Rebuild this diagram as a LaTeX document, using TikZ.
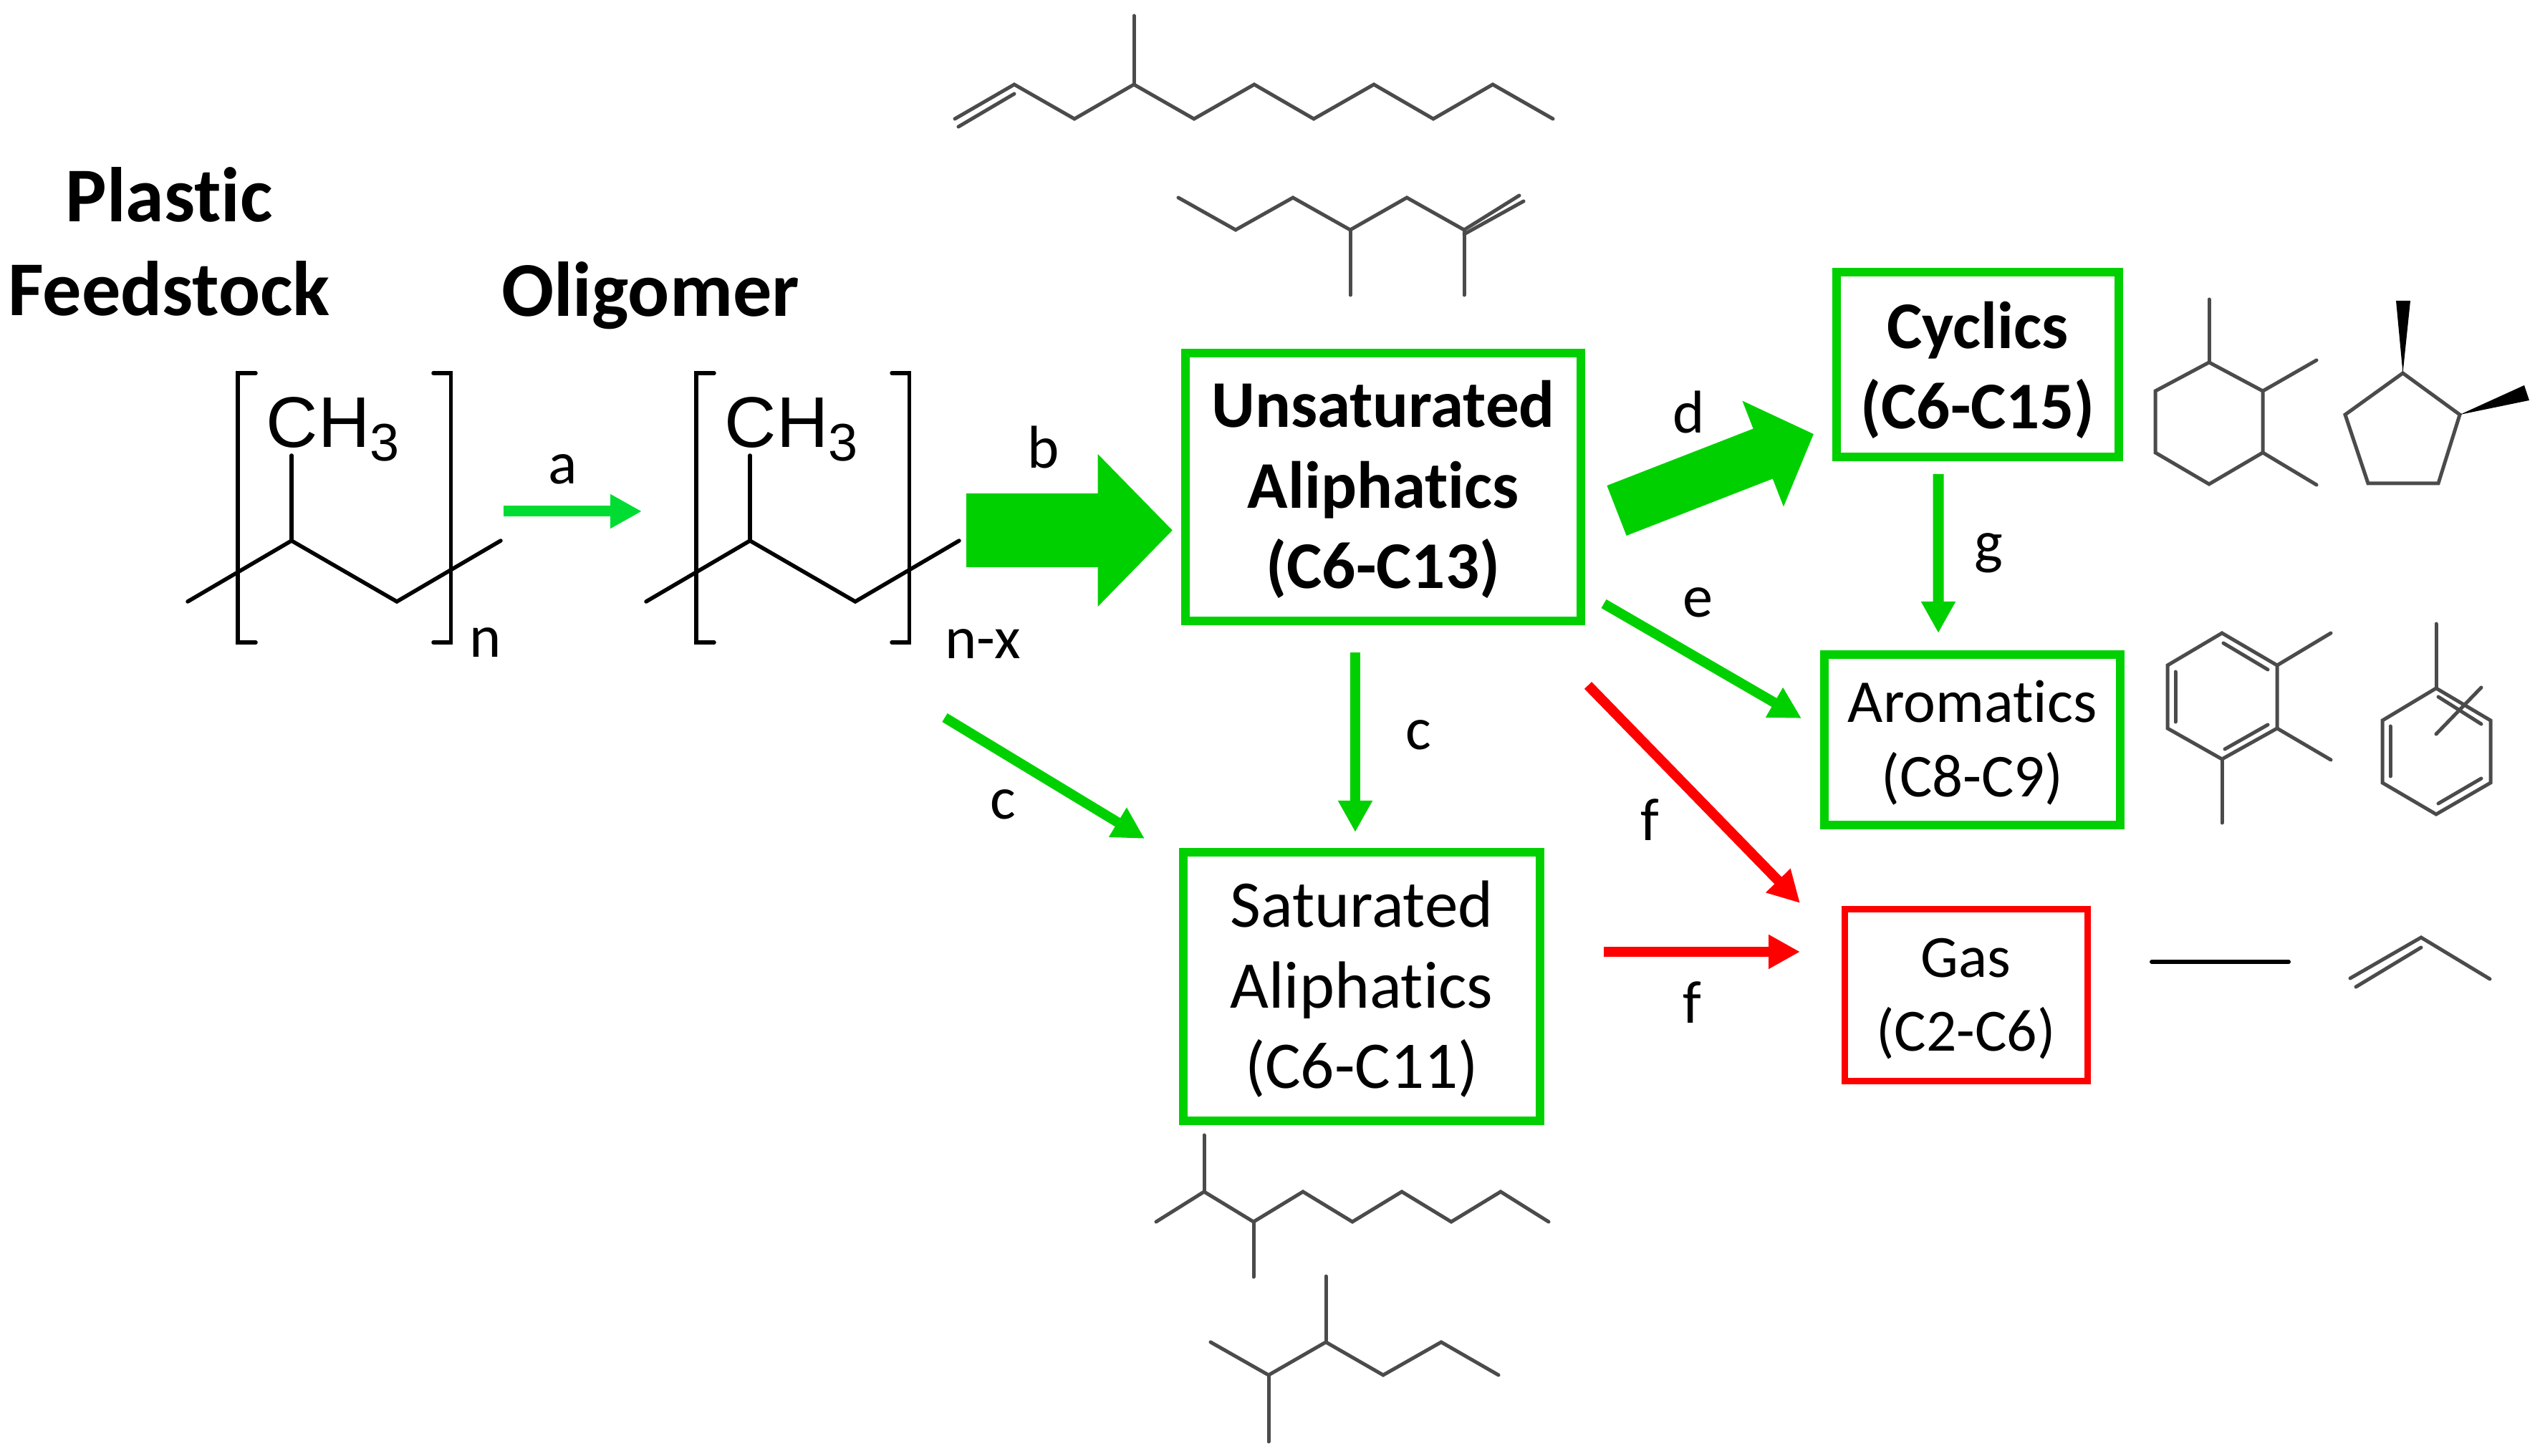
\documentclass[tikz,border=0pt]{standalone}
\usepackage{amsmath,amsthm,amssymb}
\usepackage[svgnames]{xcolor}
\usepackage{fontspec}
\usepackage{tkz-euclide}
\usepackage{tikz}
\usetikzlibrary{arrows.meta}

\setmainfont{Carlito}[Ligatures=NoCommon]
\newfontfamily\chemfont{Liberation Sans}

\definecolor{boxgreen}{RGB}{0,208,0}
\definecolor{feedgreen}{RGB}{0,220,50}
\definecolor{molgray}{RGB}{75,75,75}

\newcommand{\linelift}[1][.78em]{\rule{0pt}{#1}}

\tikzset{
    box/.style={draw,line width=.115cm,inner sep=0pt,outer sep=0pt,align=center,
        font=\fontsize{26.5}{32}\selectfont},
    greenbox/.style={box,draw=boxgreen},
    redbox/.style={box,draw=red,line width=.09cm,font=\fontsize{23.8}{29.5}\selectfont},
    heading/.style={font=\bfseries\fontsize{30.8}{37.3}\selectfont,align=center},
    steplabel/.style={anchor=base,inner sep=0pt,font=\fontsize{24}{28}\selectfont},
    flow/.style={line width=.14cm,-{Triangle[length=.44cm,width=.45cm]}},
    mol/.style={line width=.05cm,molgray,line join=miter},
    poly/.style={line width=.055cm,black},
    ch/.style={anchor=base west,inner sep=0pt,font=\chemfont\fontsize{28.5}{30}\selectfont}
}

\begin{document}
\begin{tikzpicture}[x=1cm,y=1cm]

        \useasboundingbox (0,0) rectangle (35.53,20.33);

        % product boxes
        \node[greenbox,minimum width=5.52cm,minimum height=3.74cm] (unsat) at (19.31,13.53)
            {\linelift\bfseries Unsaturated\\\bfseries Aliphatics\\\bfseries (C6-C13)};
        \node[greenbox,minimum width=3.94cm,minimum height=2.58cm] (cyclics) at (27.61,15.24)
            {\linelift[.87em]\bfseries Cyclics\\\bfseries (C6-C15)};
        \node[greenbox,minimum width=4.13cm,minimum height=2.38cm,font=\fontsize{24.2}{29.5}\selectfont] (arom) at (27.535,10.00)
            {\linelift[.79em]Aromatics\\(C8-C9)};
        \node[greenbox,minimum width=4.98cm,minimum height=3.75cm] (sat) at (19.01,6.555)
            {\linelift Saturated\\Aliphatics\\(C6-C11)};
        \node[redbox,minimum width=3.39cm,minimum height=2.40cm] (gas) at (27.445,6.43)
            {\linelift[.76em]Gas\\(C2-C6)};

        % headings
        \node[heading] (feedstock) at (2.36,16.96) {Plastic\\Feedstock};
        \node[heading,anchor=base] (oligomer) at (9.08,15.91) {Oligomer};

        % feedstock repeat unit
        \tkzDefPoints{2.62/11.93/Pa,4.07/12.78/Pb,5.54/11.93/Pc,6.99/12.78/Pd,4.07/13.97/Pe}
        \tkzDefPoints{3.57/15.12/Pf,3.32/15.12/Pg,3.32/11.36/Ph,3.57/11.36/Pi}
        \tkzDefPoints{6.05/15.12/Pj,6.295/15.12/Pk,6.295/11.36/Pl,6.05/11.36/Pm}
        \tkzDrawPolySeg[poly](Pa,Pb,Pc,Pd)
        \tkzDrawSegments[poly](Pb,Pe)
        \tkzDrawPolySeg[poly](Pf,Pg,Ph,Pi)
        \tkzDrawPolySeg[poly](Pj,Pk,Pl,Pm)
        \node[ch] (methylP) at (3.71,14.08) {CH\raisebox{-5.4pt}{\fontsize{21}{21}\selectfont 3}};
        \node[steplabel] (repn) at (6.78,11.15) {n};

        % oligomer repeat unit
        \tkzDefPoints{9.02/11.93/Oa,10.47/12.78/Ob,11.94/11.93/Oc,13.39/12.78/Od,10.47/13.97/Oe}
        \tkzDefPoints{9.97/15.12/Of,9.72/15.12/Og,9.72/11.36/Oh,9.97/11.36/Oi}
        \tkzDefPoints{12.45/15.12/Oj,12.695/15.12/Ok,12.695/11.36/Ol,12.45/11.36/Om}
        \tkzDrawPolySeg[poly](Oa,Ob,Oc,Od)
        \tkzDrawSegments[poly](Ob,Oe)
        \tkzDrawPolySeg[poly](Of,Og,Oh,Oi)
        \tkzDrawPolySeg[poly](Oj,Ok,Ol,Om)
        \node[ch] (methylO) at (10.11,14.08) {CH\raisebox{-5.4pt}{\fontsize{21}{21}\selectfont 3}};
        \node[steplabel] (repnx) at (13.72,11.13) {n-x};

        % free ends of the arrows
        \tkzDefPoints{7.03/13.19/aS,8.96/13.19/aE,13.49/12.925/bS,13.19/10.31/cS}

        % reaction arrows
        \draw[flow,feedgreen,line width=.15cm] (aS) -- (aE);
        \draw[boxgreen,line width=1.03cm,-{Triangle[length=1.045cm,width=2.07cm]}]
            (bS) -- ([shift={(-.18,-.605)}]unsat.west);
        \draw[flow,boxgreen] (cS) -- ([shift={(-.54,.19)}]sat.north west);
        \draw[flow,boxgreen] ([shift={(-.39,-.44)}]unsat.south) -- ([shift={(-.09,.28)}]sat.north);
        \draw[boxgreen,line width=.75cm,-{Triangle[length=.76cm,width=1.54cm]}]
            ([shift={(.50,-.33)}]unsat.east) -- ([shift={(-.32,-.97)}]cyclics.west);
        \draw[flow,boxgreen] ([shift={(.32,.24)}]unsat.south east) -- ([shift={(-.32,.30)}]arom.west);
        \draw[flow,red] ([shift={(.10,-.90)}]unsat.south east) -- ([shift={(-.62,.09)}]gas.north west);
        \draw[flow,red] ([shift={(.89,.485)}]sat.east) -- ([shift={(-.62,.61)}]gas.west);
        \draw[flow,boxgreen,line width=.15cm] ([shift={(-.55,-.24)}]cyclics.south) -- ([shift={(-.475,.30)}]arom.north);

        % arrow labels
        \node[steplabel] (la) at (7.86,13.57) {a};
        \node[steplabel] (lb) at (14.57,13.79) {b};
        \node[steplabel] (lc) at (19.80,9.86) {c};
        \node[steplabel] (lcc) at (14.00,8.89) {c};
        \node[steplabel] (ld) at (23.58,14.28) {d};
        \node[steplabel] (le) at (23.70,11.71) {e};
        \node[steplabel] (lf) at (23.03,8.59) {f};
        \node[steplabel] (lff) at (23.62,6.04) {f};
        \node[steplabel] (lg) at (27.76,12.47) {g};

        % unsaturated chains
        \tkzDefPoints{13.33/18.67/Ua,14.16/19.15/Ub,15.00/18.67/Uc,15.83/19.15/Ud,16.67/18.67/Ue,17.51/19.15/Uf}
        \tkzDefPoints{18.34/18.67/Ug,19.18/19.15/Uh,20.01/18.67/Ui,20.84/19.15/Uj,21.68/18.67/Uk}
        \tkzDefPoints{15.83/20.11/Ul,13.38/18.56/Um,14.16/19.02/Un}
        \tkzDrawPolySeg[mol](Ua,Ub,Uc,Ud,Ue,Uf,Ug,Uh,Ui,Uj,Uk)
        \tkzDrawSegments[mol](Ud,Ul Um,Un)

        \tkzDefPoints{16.45/17.57/Va,17.25/17.12/Vb,18.05/17.57/Vc,18.85/17.12/Vd,19.64/17.57/Ve,20.44/17.12/Vf}
        \tkzDefPoints{21.21/17.60/Vg,20.44/17.06/Vh,21.27/17.52/Vi,18.85/16.21/Vj,20.44/16.21/Vk}
        \tkzDrawPolySeg[mol](Va,Vb,Vc,Vd,Ve,Vf,Vg)
        \tkzDrawSegments[mol](Vh,Vi Vd,Vj Vf,Vk)

        % saturated chains
        \tkzDefPoints{16.14/3.27/Sa,16.81/3.69/Sb,17.50/3.27/Sc,18.19/3.69/Sd,18.88/3.27/Se}
        \tkzDefPoints{19.57/3.69/Sf,20.26/3.27/Sg,20.95/3.69/Sh,21.62/3.27/Si,16.81/4.48/Sj,17.50/2.50/Sk}
        \tkzDrawPolySeg[mol](Sa,Sb,Sc,Sd,Se,Sf,Sg,Sh,Si)
        \tkzDrawSegments[mol](Sb,Sj Sc,Sk)

        \tkzDefPoints{16.90/1.59/Ta,17.71/1.13/Tb,18.51/1.59/Tc,19.31/1.13/Td,20.12/1.59/Te,20.92/1.13/Tf}
        \tkzDefPoints{18.51/2.51/Tg,17.71/0.20/Th}
        \tkzDrawPolySeg[mol](Ta,Tb,Tc,Td,Te,Tf)
        \tkzDrawSegments[mol](Tc,Tg Tb,Th)

        % cyclics
        \tkzDefPoints{30.84/15.27/Ca,31.59/14.87/Cb,31.59/14.01/Cc,30.84/13.57/Cd,30.09/14.01/Ce,30.09/14.87/Cf}
        \tkzDefPoints{30.84/16.15/Cg,32.34/15.30/Ch,32.34/13.56/Ci}
        \tkzDrawPolygon[mol](Ca,Cb,Cc,Cd,Ce,Cf)
        \tkzDrawSegments[mol](Ca,Cg Cb,Ch Cc,Ci)

        \tkzDefPoints{33.545/15.12/Da,34.34/14.54/Db,34.04/13.58/Dc,33.06/13.58/Dd,32.74/14.54/De}
        \tkzDefPoints{33.45/16.13/Df,33.65/16.13/Dg,35.24/14.95/Dh,35.31/14.74/Di}
        \tkzDrawPolygon[mol](Da,Db,Dc,Dd,De)
        \tkzFillPolygon[color=black](Da,Df,Dg)
        \tkzFillPolygon[color=black](Db,Dh,Di)

        % aromatics
        \tkzDefPoints{31.02/11.49/Aa,31.79/11.04/Ab,31.79/10.16/Ac,31.02/9.73/Ad,30.26/10.16/Ae,30.26/11.04/Af}
        \tkzDefPoints{32.54/11.49/Ag,32.54/9.72/Ah,31.02/8.84/Ai}
        \tkzDefPoints{31.04/11.35/Aj,31.66/10.98/Ak,30.37/10.95/Al,30.37/10.25/Am,31.06/9.87/An,31.66/10.21/Ao}
        \tkzDrawPolygon[mol](Aa,Ab,Ac,Ad,Ae,Af)
        \tkzDrawSegments[mol](Ab,Ag Ac,Ah Ad,Ai Aj,Ak Al,Am An,Ao)

        \tkzDefPoints{34.01/10.72/Ba,34.77/10.27/Bb,34.77/9.40/Bc,34.01/8.96/Bd,33.26/9.40/Be,33.26/10.27/Bf}
        \tkzDefPoints{34.01/11.62/Bg,34.64/10.73/Bh,34.01/10.08/Bi}
        \tkzDefPoints{34.04/10.60/Bj,34.64/10.22/Bk,33.37/10.19/Bl,33.37/9.49/Bm,34.04/9.11/Bn,34.64/9.46/Bo}
        \tkzDrawPolygon[mol](Ba,Bb,Bc,Bd,Be,Bf)
        \tkzDrawSegments[mol](Ba,Bg Bh,Bi Bj,Bk Bl,Bm Bn,Bo)

        % gases
        \tkzDefPoints{30.04/6.90/Ga,31.95/6.90/Gb,34.76/6.66/Gc,33.80/7.24/Gd,32.81/6.67/Ge,32.89/6.55/Gf,33.80/7.10/Gg}
        \tkzDrawSegments[poly,line width=.06cm](Ga,Gb)
        \tkzDrawPolySeg[mol](Gc,Gd,Ge)
        \tkzDrawSegments[mol](Gf,Gg)

\end{tikzpicture}
\end{document}
